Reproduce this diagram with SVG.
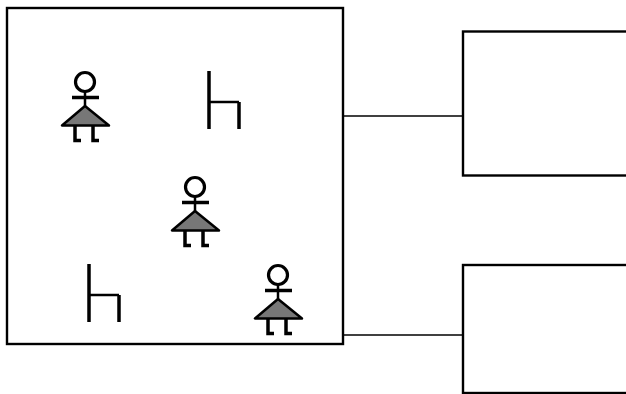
<svg xmlns="http://www.w3.org/2000/svg" width="626" height="394" viewBox="0 0 626 394">
<style>
.box{fill:#fff;stroke:#000;stroke-width:2.400}
.conn{fill:none;stroke:#000;stroke-width:1.700}
.line{fill:none;stroke:#000;stroke-width:3.500}
.thin{fill:none;stroke:#000;stroke-width:2.500}
.skirt{fill:#777;stroke:#000;stroke-width:2.500;stroke-linejoin:round}
.head{fill:#fff;stroke:#000;stroke-width:3.200}
</style>
<defs>
<g id="person">
<circle class="head" cx="0" cy="0" r="9.500"/>
<path class="thin" d="M0 9V26"/>
<path class="line" d="M-13 15.500H14"/>
<path class="skirt" d="M0 24L-23 43.500H24Z"/>
<path class="line" d="M-10 43V58.500H-4M8 43V58.500H14"/>
</g>
<g id="chair">
<path class="line" d="M0 0V58"/>
<path class="thin" d="M0 31H30"/>
<path class="line" d="M30 31V58"/>
</g>
</defs>
<rect width="626" height="394" fill="#fff"/>
<g id="connectors">
<path class="conn" d="M343 116H463"/>
<path class="conn" d="M343 335H463"/>
</g>
<g id="room">
<rect class="box" x="7" y="8" width="336" height="336"/>
</g>
<g id="person-1"><use href="#person" x="85" y="82"/></g>
<g id="chair-1"><use href="#chair" x="209" y="71"/></g>
<g id="person-2"><use href="#person" x="195" y="187"/></g>
<g id="chair-2"><use href="#chair" x="89" y="264"/></g>
<g id="person-3"><use href="#person" x="278" y="275"/></g>
<g id="box-1">
<rect class="box" x="463" y="31.500" width="170" height="144"/>
</g>
<g id="box-2">
<rect class="box" x="463" y="265" width="170" height="128"/>
</g>
</svg>
